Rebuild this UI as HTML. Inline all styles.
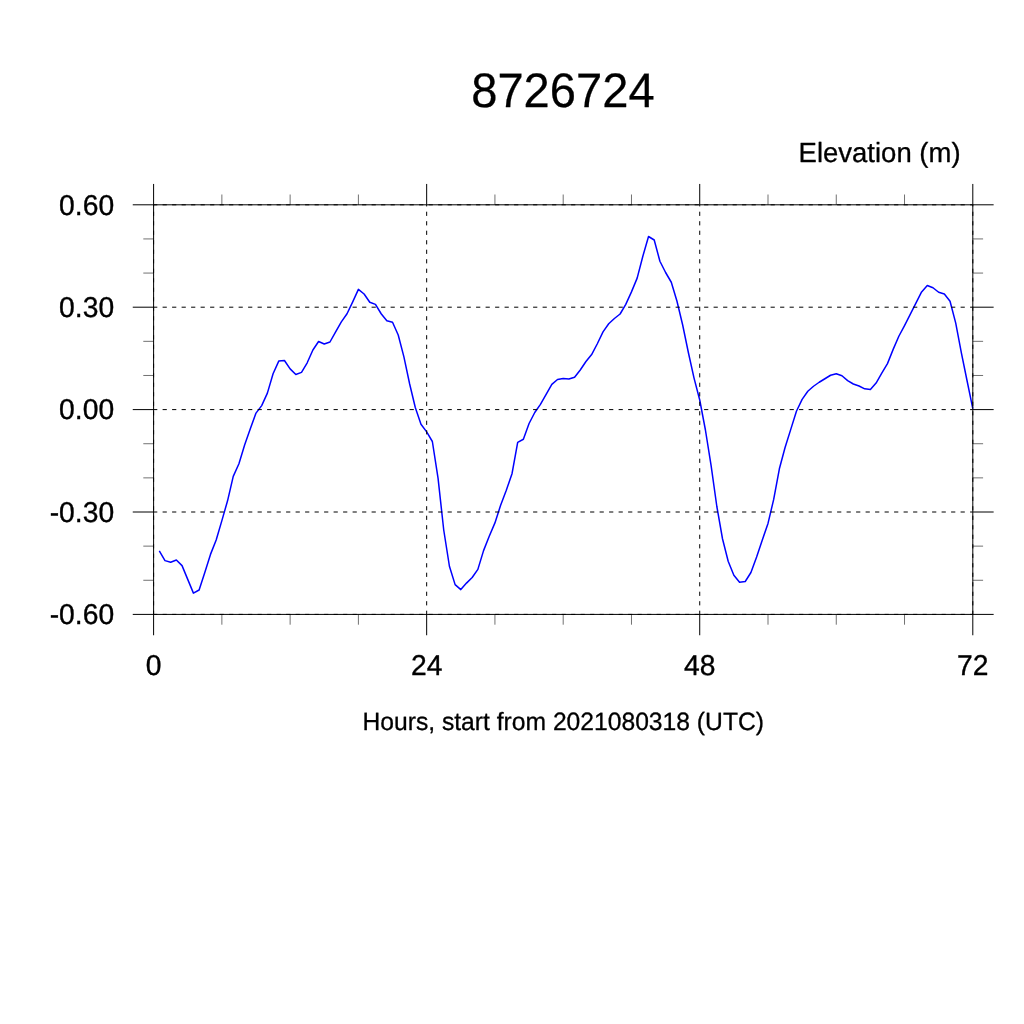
<!DOCTYPE html>
<html lang="en">
<head>
<meta charset="utf-8">
<title>8726724</title>
<style>
html,body{margin:0;padding:0;background:#fff;}
body{width:1024px;height:1024px;overflow:hidden;}
svg{display:block;will-change:transform;}
text{font-family:"Liberation Sans",sans-serif;fill:#000;text-rendering:geometricPrecision;}
</style>
</head>
<body>
<svg width="1024" height="1024" viewBox="0 0 1024 1024">
<rect x="0" y="0" width="1024" height="1024" fill="#ffffff"/>
<polyline points="159.29,550.90 164.98,560.60 170.67,562.20 176.36,560.00 182.04,565.60 187.73,579.40 193.42,593.10 199.11,590.00 204.80,572.40 210.49,554.40 216.18,540.00 221.87,520.60 227.56,500.80 233.24,476.40 238.93,463.75 244.62,445.00 250.31,428.75 256.00,413.10 261.69,405.60 267.38,393.10 273.07,373.75 278.76,361.10 284.44,360.50 290.13,368.90 295.82,374.50 301.51,372.40 307.20,362.80 312.89,350.00 318.58,341.50 324.27,344.00 329.96,342.00 335.64,331.90 341.33,321.90 347.02,313.75 352.71,301.90 358.40,289.40 364.09,294.00 369.78,302.25 375.47,304.40 381.16,313.75 386.84,320.80 392.53,322.30 398.22,335.00 403.91,356.90 409.60,383.75 415.29,407.50 420.98,424.20 426.67,431.90 432.36,441.50 438.04,478.10 443.73,530.00 449.42,566.25 455.11,584.60 460.80,589.60 466.49,583.10 472.18,577.50 477.87,569.40 483.56,550.60 489.24,536.25 494.93,522.90 500.62,505.30 506.31,490.30 512.00,473.75 517.69,442.40 523.38,439.25 529.07,423.50 534.76,412.50 540.44,404.40 546.13,394.40 551.82,384.40 557.51,379.50 563.20,378.60 568.89,379.00 574.58,377.25 580.27,370.00 585.96,361.50 591.64,354.60 597.33,343.75 603.02,331.90 608.71,323.75 614.40,318.50 620.09,314.00 625.78,304.40 631.47,291.90 637.16,278.10 642.84,256.25 648.53,236.50 654.22,240.00 659.91,261.25 665.60,272.50 671.29,282.25 676.98,301.25 682.67,325.00 688.36,352.50 694.04,378.10 699.73,400.00 705.42,430.00 711.11,465.60 716.80,506.25 722.49,538.75 728.18,561.25 733.87,575.25 739.56,582.25 745.24,581.50 750.93,572.50 756.62,556.90 762.31,540.00 768.00,523.40 773.69,499.40 779.38,468.80 785.07,447.50 790.76,429.40 796.44,411.25 802.13,399.40 807.82,391.25 813.51,386.25 819.20,382.25 824.89,378.75 830.58,375.25 836.27,373.75 841.96,375.75 847.64,380.60 853.33,384.00 859.02,386.00 864.71,388.80 870.40,389.60 876.09,383.10 881.78,373.10 887.47,363.60 893.16,349.40 898.84,336.25 904.53,325.60 910.22,314.40 915.91,303.10 921.60,291.90 927.29,285.50 932.98,287.75 938.67,292.25 944.36,294.00 950.04,301.25 955.73,323.10 961.42,353.20 967.11,381.00 972.80,408.60" fill="none" stroke="#0000ff" stroke-width="1.5" stroke-linejoin="round" stroke-linecap="butt"/>
<g stroke="#000" stroke-width="1.0" stroke-dasharray="4.2 5.3" fill="none">
<line x1="153.10" y1="204.80" x2="972.80" y2="204.80"/>
<line x1="153.10" y1="307.20" x2="972.80" y2="307.20"/>
<line x1="153.10" y1="409.60" x2="972.80" y2="409.60"/>
<line x1="153.10" y1="512.00" x2="972.80" y2="512.00"/>
<line x1="153.10" y1="614.40" x2="972.80" y2="614.40"/>
<line x1="153.60" y1="614.90" x2="153.60" y2="204.80"/>
<line x1="426.67" y1="614.90" x2="426.67" y2="204.80"/>
<line x1="699.73" y1="614.90" x2="699.73" y2="204.80"/>
<line x1="972.80" y1="614.90" x2="972.80" y2="204.80"/>
</g>
<rect x="153.6" y="204.8" width="819.20" height="409.60" fill="none" stroke="#000" stroke-width="1.0"/>
<g stroke="#000" stroke-width="1.0">
<line x1="132.75" y1="204.80" x2="153.60" y2="204.80"/>
<line x1="972.80" y1="204.80" x2="993.65" y2="204.80"/>
<line x1="132.75" y1="307.20" x2="153.60" y2="307.20"/>
<line x1="972.80" y1="307.20" x2="993.65" y2="307.20"/>
<line x1="132.75" y1="409.60" x2="153.60" y2="409.60"/>
<line x1="972.80" y1="409.60" x2="993.65" y2="409.60"/>
<line x1="132.75" y1="512.00" x2="153.60" y2="512.00"/>
<line x1="972.80" y1="512.00" x2="993.65" y2="512.00"/>
<line x1="132.75" y1="614.40" x2="153.60" y2="614.40"/>
<line x1="972.80" y1="614.40" x2="993.65" y2="614.40"/>
<line x1="153.60" y1="183.95" x2="153.60" y2="204.80"/>
<line x1="153.60" y1="614.40" x2="153.60" y2="635.25"/>
<line x1="426.67" y1="183.95" x2="426.67" y2="204.80"/>
<line x1="426.67" y1="614.40" x2="426.67" y2="635.25"/>
<line x1="699.73" y1="183.95" x2="699.73" y2="204.80"/>
<line x1="699.73" y1="614.40" x2="699.73" y2="635.25"/>
<line x1="972.80" y1="183.95" x2="972.80" y2="204.80"/>
<line x1="972.80" y1="614.40" x2="972.80" y2="635.25"/>
</g>
<g stroke="#000" stroke-width="0.56">
<line x1="143.30" y1="238.93" x2="153.60" y2="238.93"/>
<line x1="972.80" y1="238.93" x2="983.10" y2="238.93"/>
<line x1="143.30" y1="273.07" x2="153.60" y2="273.07"/>
<line x1="972.80" y1="273.07" x2="983.10" y2="273.07"/>
<line x1="143.30" y1="341.33" x2="153.60" y2="341.33"/>
<line x1="972.80" y1="341.33" x2="983.10" y2="341.33"/>
<line x1="143.30" y1="375.47" x2="153.60" y2="375.47"/>
<line x1="972.80" y1="375.47" x2="983.10" y2="375.47"/>
<line x1="143.30" y1="443.73" x2="153.60" y2="443.73"/>
<line x1="972.80" y1="443.73" x2="983.10" y2="443.73"/>
<line x1="143.30" y1="477.87" x2="153.60" y2="477.87"/>
<line x1="972.80" y1="477.87" x2="983.10" y2="477.87"/>
<line x1="143.30" y1="546.13" x2="153.60" y2="546.13"/>
<line x1="972.80" y1="546.13" x2="983.10" y2="546.13"/>
<line x1="143.30" y1="580.27" x2="153.60" y2="580.27"/>
<line x1="972.80" y1="580.27" x2="983.10" y2="580.27"/>
<line x1="221.87" y1="194.50" x2="221.87" y2="204.80"/>
<line x1="221.87" y1="614.40" x2="221.87" y2="624.70"/>
<line x1="290.13" y1="194.50" x2="290.13" y2="204.80"/>
<line x1="290.13" y1="614.40" x2="290.13" y2="624.70"/>
<line x1="358.40" y1="194.50" x2="358.40" y2="204.80"/>
<line x1="358.40" y1="614.40" x2="358.40" y2="624.70"/>
<line x1="494.93" y1="194.50" x2="494.93" y2="204.80"/>
<line x1="494.93" y1="614.40" x2="494.93" y2="624.70"/>
<line x1="563.20" y1="194.50" x2="563.20" y2="204.80"/>
<line x1="563.20" y1="614.40" x2="563.20" y2="624.70"/>
<line x1="631.47" y1="194.50" x2="631.47" y2="204.80"/>
<line x1="631.47" y1="614.40" x2="631.47" y2="624.70"/>
<line x1="768.00" y1="194.50" x2="768.00" y2="204.80"/>
<line x1="768.00" y1="614.40" x2="768.00" y2="624.70"/>
<line x1="836.27" y1="194.50" x2="836.27" y2="204.80"/>
<line x1="836.27" y1="614.40" x2="836.27" y2="624.70"/>
<line x1="904.53" y1="194.50" x2="904.53" y2="204.80"/>
<line x1="904.53" y1="614.40" x2="904.53" y2="624.70"/>
</g>
<text transform="translate(562.90,107.20) scale(1,1.03)" font-size="47.1" text-anchor="middle" stroke="#000" stroke-width="0.25" stroke-linejoin="round">8726724</text>
<text transform="translate(960.55,162.00) scale(1,1.01)" font-size="27.5" text-anchor="end" stroke="#000" stroke-width="0.3" stroke-linejoin="round">Elevation (m)</text>
<text transform="translate(563.20,729.70) scale(1,1.015)" font-size="24.67" text-anchor="middle" stroke="#000" stroke-width="0.3" stroke-linejoin="round">Hours, start from 2021080318 (UTC)</text>
<text transform="translate(114.10,214.50) scale(1,1.012)" font-size="28.25" text-anchor="end" stroke="#000" stroke-width="0.35" stroke-linejoin="round">0.60</text>
<text transform="translate(114.10,316.90) scale(1,1.012)" font-size="28.25" text-anchor="end" stroke="#000" stroke-width="0.35" stroke-linejoin="round">0.30</text>
<text transform="translate(114.10,419.30) scale(1,1.012)" font-size="28.25" text-anchor="end" stroke="#000" stroke-width="0.35" stroke-linejoin="round">0.00</text>
<text transform="translate(114.10,521.70) scale(1,1.012)" font-size="28.25" text-anchor="end" stroke="#000" stroke-width="0.35" stroke-linejoin="round">-0.30</text>
<text transform="translate(114.10,624.10) scale(1,1.012)" font-size="28.25" text-anchor="end" stroke="#000" stroke-width="0.35" stroke-linejoin="round">-0.60</text>
<text transform="translate(153.60,675.10) scale(1,1.012)" font-size="28.25" text-anchor="middle" stroke="#000" stroke-width="0.35" stroke-linejoin="round">0</text>
<text transform="translate(426.67,675.10) scale(1,1.012)" font-size="28.25" text-anchor="middle" stroke="#000" stroke-width="0.35" stroke-linejoin="round">24</text>
<text transform="translate(699.73,675.10) scale(1,1.012)" font-size="28.25" text-anchor="middle" stroke="#000" stroke-width="0.35" stroke-linejoin="round">48</text>
<text transform="translate(972.80,675.10) scale(1,1.012)" font-size="28.25" text-anchor="middle" stroke="#000" stroke-width="0.35" stroke-linejoin="round">72</text>
</svg>
</body>
</html>
